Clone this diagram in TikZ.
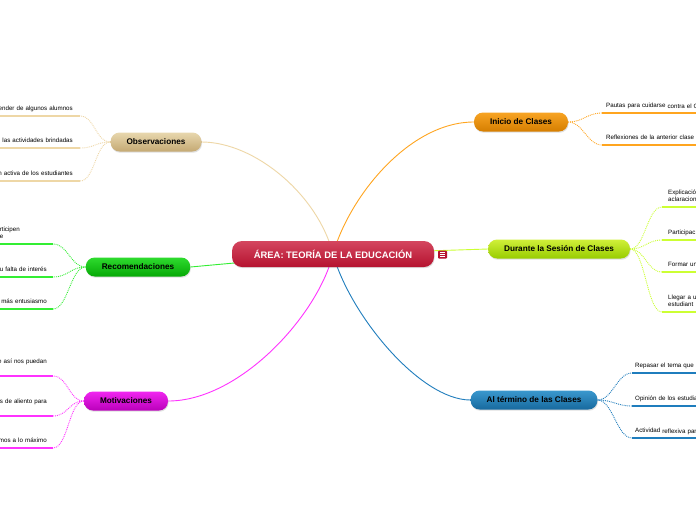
\documentclass[tikz,border=0pt]{standalone}
\usepackage{fontspec}
\setmainfont{Liberation Sans}
\usetikzlibrary{positioning, shadows, backgrounds}

\definecolor{hubA}{HTML}{D4465F}\definecolor{hubB}{HTML}{B5122F}
\definecolor{obsA}{HTML}{E8D7AE}\definecolor{obsB}{HTML}{C4A973}\definecolor{obsL}{HTML}{EED7A6}
\definecolor{recA}{HTML}{2EDB2E}\definecolor{recB}{HTML}{06A806}\definecolor{recL}{HTML}{33EE33}
\definecolor{motA}{HTML}{F026F0}\definecolor{motB}{HTML}{BA00BA}\definecolor{motL}{HTML}{FF33FF}
\definecolor{iniA}{HTML}{F8A424}\definecolor{iniB}{HTML}{D57E00}\definecolor{iniL}{HTML}{FFA51F}
\definecolor{durA}{HTML}{D0F03A}\definecolor{durB}{HTML}{98CC00}\definecolor{durL}{HTML}{CCFF33}
\definecolor{finA}{HTML}{3A98CE}\definecolor{finB}{HTML}{17699E}\definecolor{finL}{HTML}{1F7DBD}

\begin{document}
\begin{tikzpicture}[x=1pt,y=-1pt,topic/.style={rounded corners=9pt,minimum height=19pt,inner xsep=16pt,font=\fontsize{8.2}{10}\selectfont\bfseries,drop shadow={opacity=0.25,shadow xshift=0.6pt,shadow yshift=-1.2pt}},hub/.style={topic,rounded corners=10pt,minimum height=26pt,minimum width=202pt,top color=hubA,bottom color=hubB,text=white,font=\fontsize{9.4}{11}\selectfont\bfseries},obs/.style={topic,top color=obsA,bottom color=obsB},rec/.style={topic,top color=recA,bottom color=recB},mot/.style={topic,top color=motA,bottom color=motB},ini/.style={topic,top color=iniA,bottom color=iniB},dur/.style={topic,top color=durA,bottom color=durB},fin/.style={topic,top color=finA,bottom color=finB},leaf/.style={font=\fontsize{6.2}{7}\selectfont,inner ysep=4pt,text depth=1.5pt},lleaf/.style={leaf,anchor=south east,text width=100pt,align=right},rleaf/.style={leaf,anchor=south west,text width=100pt,align=left},uline/.style={line width=2.6pt},twig/.style={densely dotted,line width=0.9pt},limb/.style={line width=0.9pt},notes/.style={minimum width=9pt,minimum height=8pt,inner sep=0pt,fill=hubB,rounded corners=1pt}]
\useasboundingbox (0,0) rectangle (696,520);
% main ideas
\node[hub] (hub) at (333,254) {ÁREA: TEORÍA DE LA EDUCACIÓN};
\node[notes] (memo) at (442.5,254.5) {};
\foreach \k in {-2,0,2} \draw[white,line width=0.6pt] ([xshift=-2.5pt,yshift=\k pt]memo.center) -- ++(5,0);
\node[obs] (obs) at (156,142) {Observaciones};
\node[rec] (rec) at (138,267) {Recomendaciones};
\node[mot] (mot) at (126,401) {Motivaciones};
\node[ini] (ini) at (521,122) {Inicio de Clases};
\node[dur] (dur) at (559,249) {Durante la Sesión de Clases};
\node[fin] (fin) at (534,400) {Al término de las Clases};
\begin{scope}[on background layer]
\fill[white] (0,0) rectangle (696,520);
\draw[limb,obsL] (hub.center) .. controls (318,195) and (255,142) .. (obs.east);
\draw[limb,recL] (hub.center) -- (rec.east);
\draw[limb,motL] (hub.center) .. controls (318,315) and (240,401) .. (mot.east);
\draw[limb,iniL] (hub.center) .. controls (350,195) and (410,122) .. (ini.west);
\draw[limb,durL] (hub.center) -- (dur.west);
\draw[limb,finL] (hub.center) .. controls (350,315) and (420,400) .. (fin.west);
\end{scope}
% observaciones
\node[lleaf,inner xsep=7pt] (o1) at (80,116) {ender de algunos alumnos};
\node[lleaf,inner xsep=7pt] (o2) at (80,148) {n las actividades brindadas};
\node[lleaf,inner xsep=7pt] (o3) at (80,181) {n activa de los estudiantes};
\foreach \n in {o1,o2,o3} {\draw[uline,obsL] (\n.south west) -- (\n.south east);\draw[twig,obsL] (obs.west) .. controls +(-15,0) and +(15,0) .. (\n.south east);}
% recomendaciones
\node[lleaf,inner xsep=6pt,text width=47pt,align=left,text depth=8.5pt] (r1) at (53,244) {rticipen\\e};
\node[lleaf,inner xsep=6pt] (r2) at (53,277) {u falta de interés};
\node[lleaf,inner xsep=6pt] (r3) at (53,309) {más entusiasmo};
\foreach \n in {r1,r2,r3} {\draw[uline,recL] (\n.south west) -- (\n.south east);\draw[twig,recL] (rec.west) .. controls +(-15,0) and +(15,0) .. (\n.south east);}
% motivaciones
\node[lleaf,inner xsep=6pt,text depth=8.5pt] (m1) at (53,376) {e así nos puedan};
\node[lleaf,inner xsep=6pt,text depth=8.5pt] (m2) at (53,416) {s de aliento para};
\node[lleaf,inner xsep=6pt] (m3) at (53,448) {mos a lo máximo};
\foreach \n in {m1,m2,m3} {\draw[uline,motL] (\n.south west) -- (\n.south east);\draw[twig,motL] (mot.west) .. controls +(-15,0) and +(15,0) .. (\n.south east);}
% inicio de clases
\node[rleaf,inner xsep=4pt] (i1) at (602,113) {Pautas para cuidarse \raisebox{-1.5pt}{contra el C}};
\node[rleaf,inner xsep=4pt] (i2) at (602,145) {Reflexiones de la anterior clase};
\foreach \n in {i1,i2} {\draw[uline,iniL] (\n.south west) -- (\n.south east);\draw[twig,iniL] (ini.east) .. controls +(15,0) and +(-15,0) .. (\n.south west);}
% durante la sesion
\node[rleaf,inner xsep=6pt,text depth=8.5pt] (d1) at (662,207) {Explicació\\aclaracion};
\node[rleaf,inner xsep=6pt] (d2) at (662,240) {Participac};
\node[rleaf,inner xsep=6pt] (d3) at (662,272) {Formar un};
\node[rleaf,inner xsep=6pt,text depth=8.5pt] (d4) at (662,312) {Llegar a u\\estudiant};
\foreach \n in {d1,d2,d3,d4} {\draw[uline,durL] (\n.south west) -- (\n.south east);\draw[twig,durL] (dur.east) .. controls +(15,0) and +(-15,0) .. (\n.south west);}
% al termino
\node[rleaf,inner xsep=3pt] (t1) at (632,373) {Repasar el tema que s};
\node[rleaf,inner xsep=3pt] (t2) at (632,406) {Opinión de los estudia};
\node[rleaf,inner xsep=3pt] (t3) at (632,438) {Actividad \raisebox{-1pt}{reflexiva par}};
\foreach \n in {t1,t2,t3} {\draw[uline,finL] (\n.south west) -- (\n.south east);\draw[twig,finL] (fin.east) .. controls +(15,0) and +(-15,0) .. (\n.south west);}
\end{tikzpicture}
\end{document}
